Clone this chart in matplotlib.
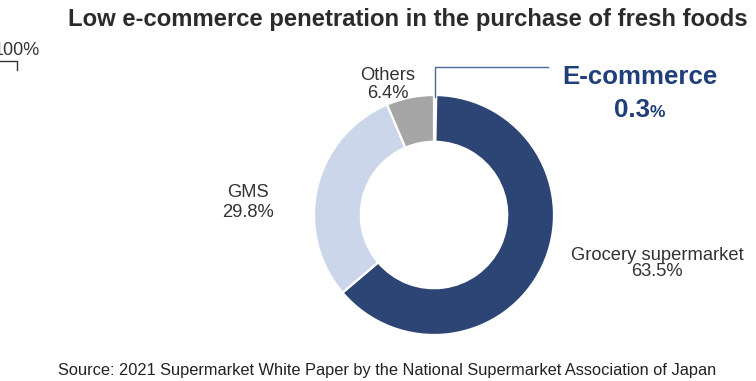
import matplotlib
matplotlib.use("Agg")
import matplotlib.pyplot as plt

plt.rcParams['font.family'] = ['Liberation Sans', 'DejaVu Sans']

# Shares of fresh-food purchases by channel (%), clockwise from 12 o'clock
channels = ["E-commerce", "Grocery supermarket", "GMS", "Others"]
shares = [0.3, 63.5, 29.8, 6.4]
colors = ["#ffffff", "#2c4574", "#cbd6ea", "#a6a6a6"]

title = "Low e-commerce penetration in the purchase of fresh foods"
source = ("Source: 2021 Supermarket White Paper by the National "
          "Supermarket Association of Japan")

W, H = 756, 381
fig = plt.figure(figsize=(W / 100, H / 100), dpi=100)
ax = fig.add_axes([0, 0, 1, 1])


def Y(y):
    return H - y


# Donut
cx, cy, r = 434, Y(215), 120
ax.pie(shares, colors=colors, startangle=90, counterclock=False,
       center=(cx, cy), radius=r, frame=True,
       wedgeprops=dict(width=r * 0.39, edgecolor="white", linewidth=1.6))
ax.set_xlim(0, W)
ax.set_ylim(0, H)
ax.set_aspect("equal")
ax.axis("off")

text_col = "#333333"
lab = dict(fontsize=13.2, color=text_col, ha="center", va="center",
           linespacing=1.0)
ax.text(657, Y(263.5), f"{channels[1]}\n{shares[1]:.1f}%", **lab)
ax.text(248, Y(202.5), f"{channels[2]}\n{shares[2]:.1f}%",
        **{**lab, "linespacing": 1.3})
ax.text(388, Y(84.5), f"{channels[3]}\n{shares[3]:.1f}%", **lab)

# E-commerce call-out
blue = "#1f3e7a"
ax.plot([435, 435, 548], [Y(97), Y(67), Y(67)], color="#4a6a9e",
        linewidth=1.0, solid_joinstyle="miter")
ax.text(640, Y(84), channels[0], fontsize=18.6, fontweight="bold",
        color=blue, ha="center", va="baseline")
ax.text(650, Y(117), f"{shares[0]:.1f}", fontsize=18.6, fontweight="bold",
        color=blue, ha="right", va="baseline")
ax.text(650, Y(117), "%", fontsize=12.5, fontweight="bold",
        color=blue, ha="left", va="baseline")

# Title and source
ax.text(408, Y(26), title, fontsize=17.2, fontweight="bold", color="#2b2b2b",
        ha="center", va="baseline")
ax.text(387.5, Y(375), source, fontsize=11.8, color="#222222",
        ha="center", va="baseline")

# Fragment of a neighbouring axis at the left edge
ax.text(40, Y(55), "100%", fontsize=13, color=text_col, ha="right",
        va="baseline")
ax.plot([0, 17, 17], [Y(61), Y(61), Y(70)], color="#333333", linewidth=1.0)

fig.savefig("out.png", dpi=100)
